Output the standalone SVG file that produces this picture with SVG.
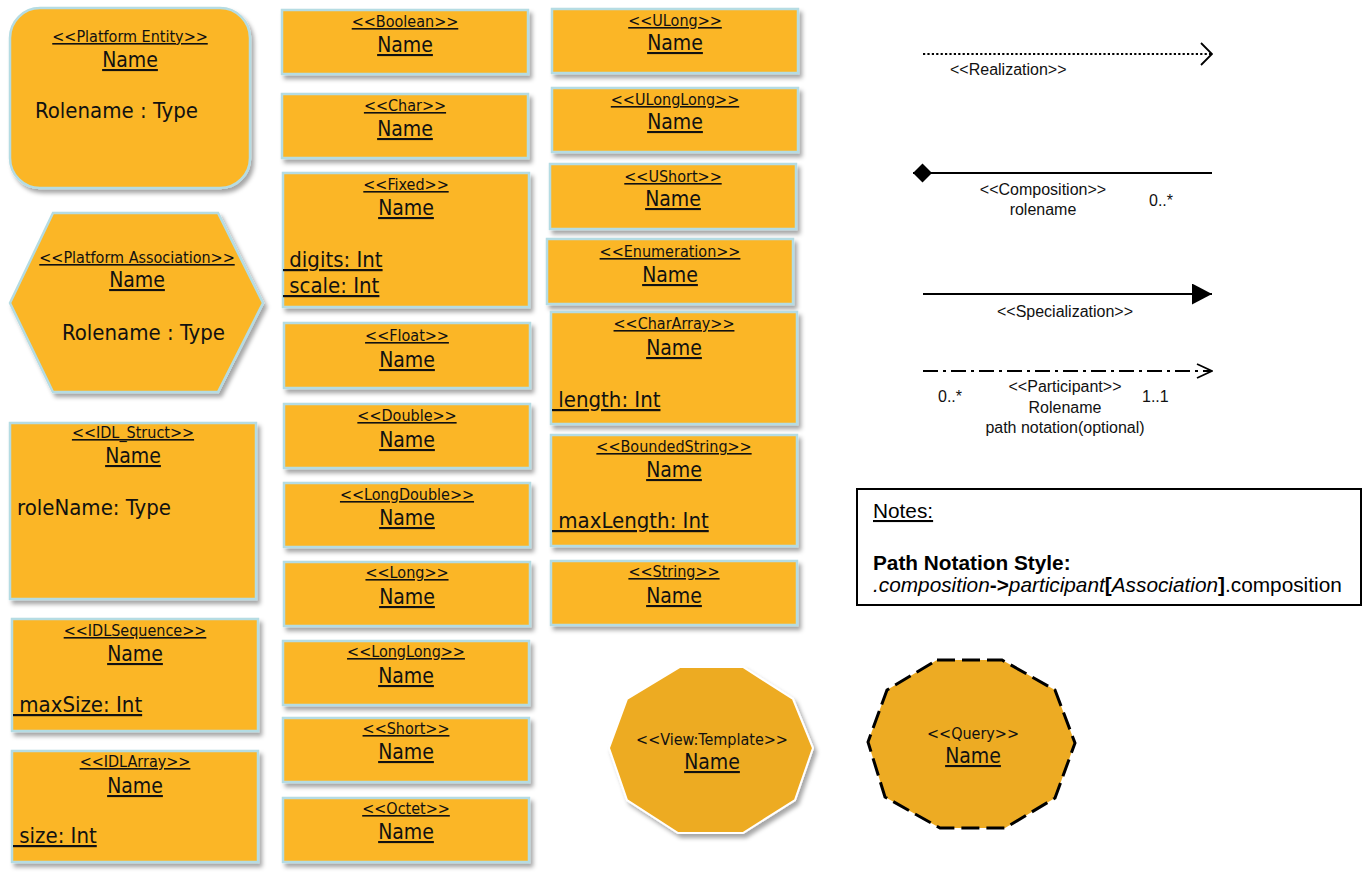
<svg xmlns="http://www.w3.org/2000/svg" width="1362" height="876" viewBox="0 0 1362 876">
<style>
.box{fill:#FBB626;stroke:#B5DCE3;stroke-width:2.5;filter:url(#sh)}
.tahoma{font-family:"DejaVu Sans Condensed","DejaVu Sans",sans-serif;font-stretch:condensed;fill:#111}
.st{font-size:16px;text-anchor:middle;text-decoration:underline}
.stp{font-size:16px;text-anchor:middle}
.nm{font-size:21px;text-anchor:middle;text-decoration:underline}
.at{font-size:22px;text-decoration:underline}
.atn{font-size:22px}
.lbl{font-family:"Liberation Sans",Arial,sans-serif;font-size:16px;fill:#111}
.mid{text-anchor:middle}
.ln{fill:none;stroke:#000;stroke-width:2}
.note{font-family:"Liberation Sans",Arial,sans-serif;font-size:20.8px;fill:#000}
</style>
<defs>
<filter id="sh" x="-10%" y="-10%" width="125%" height="130%">
<feDropShadow dx="3" dy="4" stdDeviation="2" flood-color="#000" flood-opacity="0.35"/>
</filter>
<marker id="openA" markerUnits="userSpaceOnUse" viewBox="0 0 13 24" refX="12" refY="12" markerWidth="13" markerHeight="24" orient="auto">
<path d="M1,1 L12,12 L1,23" fill="none" stroke="#000" stroke-width="1.8"/>
</marker>
<marker id="openB" markerUnits="userSpaceOnUse" viewBox="0 0 17 16" refX="16" refY="8" markerWidth="17" markerHeight="16" orient="auto">
<path d="M1,1 L16,8 L1,15" fill="none" stroke="#000" stroke-width="1.8"/>
</marker>
<marker id="tri" markerUnits="userSpaceOnUse" viewBox="0 0 21 21" refX="20" refY="10.5" markerWidth="21" markerHeight="21" orient="auto">
<path d="M0,0 L20,10.5 L0,21 Z" fill="#000"/>
</marker>
<marker id="dia" markerUnits="userSpaceOnUse" viewBox="0 0 20 20" refX="0" refY="10" markerWidth="20" markerHeight="20" orient="auto">
<path d="M0,10 L9.5,0.5 L19,10 L9.5,19.5 Z" fill="#000"/>
</marker>
</defs>
<rect width="1362" height="876" fill="#fff"/>

<g id="platform-entity" class="tahoma">
<rect class="box" x="10" y="8" width="240" height="180" rx="30"/>
<text class="st" x="130" y="42">&lt;&lt;Platform Entity&gt;&gt;</text>
<text class="nm" x="130" y="67">Name</text>
<text class="atn" x="35" y="118">Rolename : Type</text>
</g>

<g id="platform-association" class="tahoma">
<polygon class="box" points="53,213 218,213 263,303 218,392 53,392 10,303"/>
<text class="st" x="137" y="263">&lt;&lt;Platform Association&gt;&gt;</text>
<text class="nm" x="137" y="287">Name</text>
<text class="atn" x="62" y="340">Rolename : Type</text>
</g>

<g id="idl-struct" class="tahoma">
<rect class="box" x="10" y="423" width="246" height="176"/>
<text class="st" x="133" y="438">&lt;&lt;IDL_Struct&gt;&gt;</text>
<text class="nm" x="133" y="463">Name</text>
<text class="atn" x="17" y="515">roleName: Type</text>
</g>

<g id="idl-sequence" class="tahoma">
<rect class="box" x="12" y="619" width="246" height="112"/>
<text class="st" x="135" y="636">&lt;&lt;IDLSequence&gt;&gt;</text>
<text class="nm" x="135" y="661">Name</text>
<text class="at" x="13" y="712" xml:space="preserve"> maxSize: Int</text>
</g>

<g id="idl-array" class="tahoma">
<rect class="box" x="12" y="751" width="246" height="111"/>
<text class="st" x="135" y="767">&lt;&lt;IDLArray&gt;&gt;</text>
<text class="nm" x="135" y="793">Name</text>
<text class="at" x="13" y="843" xml:space="preserve"> size: Int</text>
</g>

<g id="boolean" class="tahoma">
<rect class="box" x="282" y="10" width="246" height="64"/>
<text class="st" x="405" y="27">&lt;&lt;Boolean&gt;&gt;</text>
<text class="nm" x="405" y="52">Name</text>
</g>

<g id="char" class="tahoma">
<rect class="box" x="282" y="94" width="246" height="64"/>
<text class="st" x="405" y="111">&lt;&lt;Char&gt;&gt;</text>
<text class="nm" x="405" y="136">Name</text>
</g>

<g id="fixed" class="tahoma">
<rect class="box" x="283" y="173" width="246" height="134"/>
<text class="st" x="406" y="190">&lt;&lt;Fixed&gt;&gt;</text>
<text class="nm" x="406" y="215">Name</text>
<text class="at" x="283" y="267" xml:space="preserve"> digits: Int</text>
<text class="at" x="283" y="293" xml:space="preserve"> scale: Int</text>
</g>

<g id="float" class="tahoma">
<rect class="box" x="284" y="323" width="246" height="65"/>
<text class="st" x="407" y="341">&lt;&lt;Float&gt;&gt;</text>
<text class="nm" x="407" y="367">Name</text>
</g>

<g id="double" class="tahoma">
<rect class="box" x="284" y="404" width="246" height="64"/>
<text class="st" x="407" y="421">&lt;&lt;Double&gt;&gt;</text>
<text class="nm" x="407" y="447">Name</text>
</g>

<g id="longdouble" class="tahoma">
<rect class="box" x="284" y="483" width="246" height="64"/>
<text class="st" x="407" y="500">&lt;&lt;LongDouble&gt;&gt;</text>
<text class="nm" x="407" y="525">Name</text>
</g>

<g id="long" class="tahoma">
<rect class="box" x="284" y="562" width="246" height="64"/>
<text class="st" x="407" y="578">&lt;&lt;Long&gt;&gt;</text>
<text class="nm" x="407" y="604">Name</text>
</g>

<g id="longlong" class="tahoma">
<rect class="box" x="283" y="641" width="246" height="64"/>
<text class="st" x="406" y="657">&lt;&lt;LongLong&gt;&gt;</text>
<text class="nm" x="406" y="683">Name</text>
</g>

<g id="short" class="tahoma">
<rect class="box" x="283" y="718" width="246" height="64"/>
<text class="st" x="406" y="734">&lt;&lt;Short&gt;&gt;</text>
<text class="nm" x="406" y="759">Name</text>
</g>

<g id="octet" class="tahoma">
<rect class="box" x="283" y="798" width="246" height="64"/>
<text class="st" x="406" y="814">&lt;&lt;Octet&gt;&gt;</text>
<text class="nm" x="406" y="839">Name</text>
</g>

<g id="ulong" class="tahoma">
<rect class="box" x="552" y="9" width="246" height="64"/>
<text class="st" x="675" y="26">&lt;&lt;ULong&gt;&gt;</text>
<text class="nm" x="675" y="50">Name</text>
</g>

<g id="ulonglong" class="tahoma">
<rect class="box" x="552" y="88" width="246" height="64"/>
<text class="st" x="675" y="105">&lt;&lt;ULongLong&gt;&gt;</text>
<text class="nm" x="675" y="129">Name</text>
</g>

<g id="ushort" class="tahoma">
<rect class="box" x="550" y="164" width="246" height="65"/>
<text class="st" x="673" y="182">&lt;&lt;UShort&gt;&gt;</text>
<text class="nm" x="673" y="206">Name</text>
</g>

<g id="enumeration" class="tahoma">
<rect class="box" x="547" y="239" width="246" height="65"/>
<text class="st" x="670" y="257">&lt;&lt;Enumeration&gt;&gt;</text>
<text class="nm" x="670" y="282">Name</text>
</g>

<g id="chararray" class="tahoma">
<rect class="box" x="551" y="312" width="246" height="112"/>
<text class="st" x="674" y="329">&lt;&lt;CharArray&gt;&gt;</text>
<text class="nm" x="674" y="355">Name</text>
<text class="at" x="552" y="407" xml:space="preserve"> length: Int</text>
</g>

<g id="boundedstring" class="tahoma">
<rect class="box" x="551" y="435" width="246" height="111"/>
<text class="st" x="674" y="452">&lt;&lt;BoundedString&gt;&gt;</text>
<text class="nm" x="674" y="477">Name</text>
<text class="at" x="552" y="528" xml:space="preserve"> maxLength: Int</text>
</g>

<g id="string" class="tahoma">
<rect class="box" x="551" y="561" width="246" height="64"/>
<text class="st" x="674" y="577">&lt;&lt;String&gt;&gt;</text>
<text class="nm" x="674" y="603">Name</text>
</g>

<g id="view-template" class="tahoma">
<polygon points="680,667 743,667 793,699 813,748 795,800 743,833 678,833 627,800 609,748 627,699" fill="#EDAB23" stroke="#fff" stroke-width="2" filter="url(#sh)"/>
<text class="stp" x="712" y="745">&lt;&lt;View:Template&gt;&gt;</text>
<text class="nm" x="712" y="769">Name</text>
</g>

<g id="query" class="tahoma">
<polygon points="937,660 1002,660 1055,690 1075,743 1055,798 1005,828 940,828 885,797 868,742 887,690" fill="#EDAB23" stroke="#000" stroke-width="3" stroke-dasharray="18 7"/>
<text class="stp" x="973" y="739">&lt;&lt;Query&gt;&gt;</text>
<text class="nm" x="973" y="763">Name</text>
</g>

<g id="connectors">
<path class="ln" d="M923,54 L1212,54" stroke-dasharray="2.2 2.2" marker-end="url(#openA)"/>
<text class="lbl" x="950" y="75">&lt;&lt;Realization&gt;&gt;</text>

<path class="ln" d="M913,173 L1212,173" marker-start="url(#dia)"/>
<text class="lbl mid" x="1043" y="195">&lt;&lt;Composition&gt;&gt;</text>
<text class="lbl mid" x="1043" y="215">rolename</text>
<text class="lbl" x="1149" y="206">0..*</text>

<path class="ln" d="M923,294 L1212,294" marker-end="url(#tri)"/>
<text class="lbl mid" x="1065" y="317">&lt;&lt;Specialization&gt;&gt;</text>

<path class="ln" d="M923,371 L1212,371" stroke-dasharray="15 5 3 5" marker-end="url(#openB)"/>
<text class="lbl" x="938" y="402">0..*</text>
<text class="lbl mid" x="1065" y="392">&lt;&lt;Participant&gt;&gt;</text>
<text class="lbl" x="1142" y="402">1..1</text>
<text class="lbl mid" x="1065" y="413">Rolename</text>
<text class="lbl mid" x="1065" y="433">path notation(optional)</text>
</g>

<g id="notes">
<rect x="857" y="489" width="504" height="116" fill="#fff" stroke="#000" stroke-width="2"/>
<text class="note" x="873" y="518" text-decoration="underline">Notes:</text>
<text class="note" x="873" y="570" font-weight="bold">Path Notation Style:</text>
<text class="note" x="873" y="592"><tspan font-style="italic">.composition</tspan><tspan font-weight="bold">-&gt;</tspan><tspan font-style="italic">participant</tspan><tspan font-weight="bold">[</tspan><tspan font-style="italic">Association</tspan><tspan font-weight="bold">]</tspan>.composition</text>
</g>
</svg>
